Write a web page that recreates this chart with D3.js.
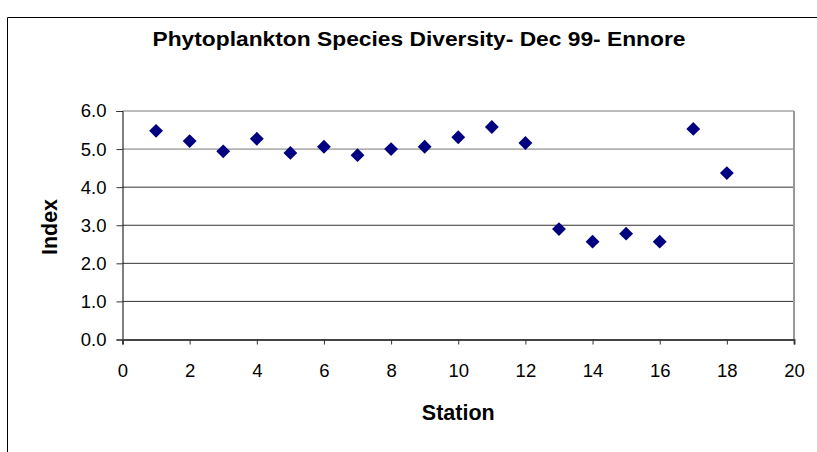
<!DOCTYPE html>
<html>
<head>
<meta charset="utf-8">
<script src="https://cdn.jsdelivr.net/npm/d3@7"></script>
<style>
  body { margin: 0; background: #fff; }
  text { font-family: "Liberation Sans", Arial, sans-serif; fill: #000; }
</style>
</head>
<body>
<svg id="chart"></svg>
<script>
var stations = [1, 2, 3, 4, 5, 6, 7, 8, 9, 10, 11, 12, 13, 14, 15, 16, 17, 18]
var indexValues = [5.48, 5.21, 4.94, 5.27, 4.90, 5.06, 4.84, 5.00, 5.06, 5.31, 5.58, 5.16, 2.90, 2.57, 2.78, 2.57, 5.53, 4.37]
var xTicks = [0, 2, 4, 6, 8, 10, 12, 14, 16, 18, 20]
var yTicks = [0, 1, 2, 3, 4, 5, 6]

var W = 817, H = 452
var margin = {top: 111, right: 23, bottom: 112.5, left: 122.5}
var width = W - margin.left - margin.right
var height = H - margin.top - margin.bottom

var svg = d3.select("#chart").attr("width", W).attr("height", H)

// outer chart border (cut off on the right and bottom)
svg.append("path")
   .attr("d", `M7.5,${H} V17.5 H${W}`)
   .attr("fill", "none")
   .attr("stroke", "#000")
   .attr("stroke-width", 1)

var g = svg.append("g").attr("transform", `translate(${margin.left},${margin.top})`)

var x = d3.scaleLinear().domain([0, 20]).range([0, width])
var y = d3.scaleLinear().domain([0, 6]).range([height, 0])

// gridlines
g.append("g")
 .selectAll("line")
 .data(yTicks.filter(d => d > 0))
 .join("line")
 .attr("x1", 0).attr("x2", width)
 .attr("y1", d => y(d)).attr("y2", d => y(d))
 .attr("stroke", d => d >= 5 ? "#777" : "#333")
 .attr("stroke-width", 1)

// right plot border
g.append("line")
 .attr("x1", width).attr("x2", width)
 .attr("y1", 0).attr("y2", height)
 .attr("stroke", "#999").attr("stroke-width", 2)

// y axis
var yAxis = g.append("g")
 .call(d3.axisLeft(y).tickValues(yTicks).tickFormat(d3.format(".1f")).tickSize(6).tickPadding(10))
yAxis.select(".domain").attr("stroke", "#000")
yAxis.selectAll(".tick line").attr("stroke", "#333")
yAxis.selectAll("text").attr("font-size", 18.5).attr("fill", "#000")
   .attr("font-family", "Liberation Sans, Arial, sans-serif")

// x axis
var xAxis = g.append("g")
 .attr("transform", `translate(0,${height})`)
 .call(d3.axisBottom(x).tickValues(xTicks).tickSizeOuter(0).tickSize(5).tickPadding(19))
xAxis.select(".domain").attr("stroke", "#444").attr("stroke-width", 2)
xAxis.selectAll(".tick line").attr("stroke", "#333")
xAxis.selectAll("text").attr("font-size", 18.5).attr("fill", "#000")
   .attr("font-family", "Liberation Sans, Arial, sans-serif")

// points as diamonds
var diamond = d3.symbol().type(d3.symbolSquare).size(96)
g.append("g")
 .selectAll("path")
 .data(stations)
 .join("path")
 .attr("d", diamond)
 .attr("transform", (d, i) => `translate(${x(d)},${y(indexValues[i])}) rotate(45)`)
 .attr("fill", "#000080")

// title
svg.append("text")
   .attr("x", 419).attr("y", 46)
   .attr("text-anchor", "middle")
   .attr("font-size", 19.5).attr("font-weight", "bold")
   .attr("textLength", 533).attr("lengthAdjust", "spacingAndGlyphs")
   .text("Phytoplankton Species Diversity- Dec 99- Ennore")

// axis titles
svg.append("text")
   .attr("x", margin.left + width / 2).attr("y", 420)
   .attr("text-anchor", "middle")
   .attr("font-size", 21.5).attr("font-weight", "bold")
   .text("Station")

svg.append("text")
   .attr("transform", "translate(57,227) rotate(-90)")
   .attr("text-anchor", "middle")
   .attr("font-size", 21.5).attr("font-weight", "bold")
   .text("Index")
</script>
</body>
</html>
